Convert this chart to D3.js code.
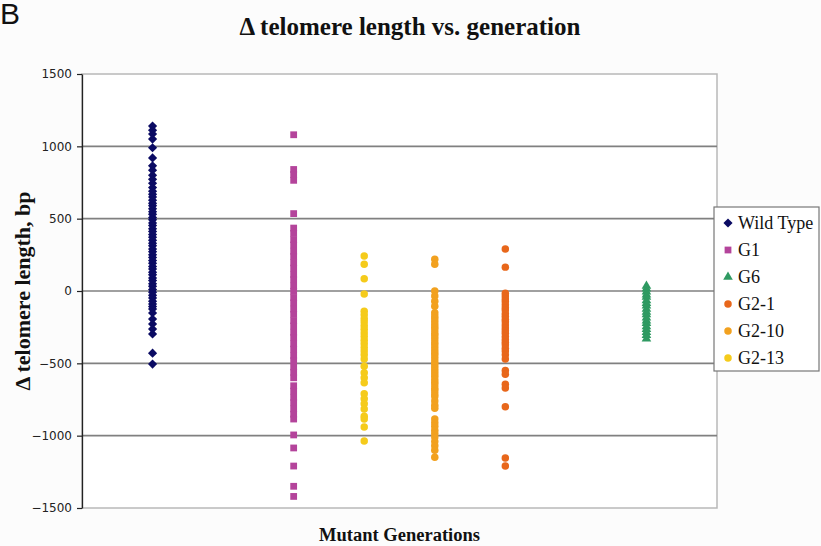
<!DOCTYPE html>
<html>
<head>
<meta charset="utf-8">
<script src="https://cdn.jsdelivr.net/npm/d3@7"></script>
<style>
  body { margin: 0; background: #fcfcfc; }
  svg { display: block; }
</style>
</head>
<body>
<div id="chart"></div>
<script>
// series names, legend order
const seriesNames = ["Wild Type", "G1", "G6", "G2-1", "G2-10", "G2-13"];
// x position of each series (Excel scatter x value)
const seriesX = [1, 3, 8, 6, 5, 4];
const seriesColors = ["#0b0b63", "#b4449b", "#2f9a62", "#e8671b", "#f2a11f", "#f5cb1b"];

// Δ telomere length values (bp)
const wildType = [1140, 1112, 1085, 1050, 990, 920, 865, 835, 800, 772, 745, 715, 690, 668, 650, 628, 606, 590, 568, 548,
  530, 508, 492, 470, 452, 430, 412, 390, 372, 350, 330, 312, 290, 272, 250, 232, 210, 192, 170, 152, 130, 112, 90, 72,
  50, 32, 10, -8, -30, -48, -70, -90, -108, -125, -152, -194, -228, -263, -297, -430, -505];
const g1 = [1080, 840, 805, 765, 535, 435, 398, 355, 318, 275, 238, 195, 158, 115, 78, 35, -2, -45, -82, -125, -162,
  -205, -242, -285, -322, -365, -402, -445, -482, -525, -562, -600, -655, -692, -735, -772, -815, -852, -885, -995,
  -1085, -1210, -1350, -1420];
const g6 = [35, 15, -5, -25, -42, -65, -85, -102, -125, -145, -162, -185, -205, -222, -245, -265, -285, -305, -330];
const g2_1 = [290, 165, -15, -35, -55, -72, -95, -115, -132, -155, -175, -195, -212, -235, -255, -275, -292, -315, -335,
  -355, -372, -395, -415, -440, -470, -550, -575, -645, -670, -800, -1155, -1210];
const g2_10 = [220, 185, 0, -35, -70, -105, -150, -172, -190, -210, -232, -250, -270, -292, -310, -330, -352, -370, -390,
  -412, -430, -450, -470, -492, -510, -530, -552, -570, -590, -612, -630, -650, -672, -690, -712, -730, -760, -790,
  -810, -885, -910, -935, -962, -985, -1010, -1040, -1070, -1100, -1150];
const g2_13 = [242, 185, 85, -20, -140, -165, -192, -215, -240, -265, -290, -315, -340, -365, -390, -415, -440, -470,
  -520, -565, -600, -635, -710, -745, -780, -815, -865, -885, -940, -1037];

const yTicks = [-1500, -1000, -500, 0, 500, 1000, 1500];

const seriesValues = [wildType, g1, g6, g2_1, g2_10, g2_13];

const width = 821, height = 546;
const plot = { left: 82, top: 74, right: 717, bottom: 508 };

// rotated-square diamond like Excel's marker
const diamond = {
  draw(ctx, size) {
    const r = Math.sqrt(size / 2);
    ctx.moveTo(0, -r); ctx.lineTo(r, 0); ctx.lineTo(0, r); ctx.lineTo(-r, 0); ctx.closePath();
  }
};
const shapes = [diamond, d3.symbolSquare, d3.symbolTriangle, d3.symbolCircle, d3.symbolCircle, d3.symbolCircle];
const sizes = [42, 46, 40, 44, 44, 44];

const serif = "Liberation Serif, Times New Roman, serif";

const x = d3.scaleLinear().domain([0, 9]).range([plot.left, plot.right]);
const y = d3.scaleLinear().domain([-1500, 1500]).range([plot.bottom, plot.top]);

const svg = d3.select("#chart").append("svg")
  .attr("width", width)
  .attr("height", height);

// panel letter
svg.append("text")
  .attr("x", 0).attr("y", 24)
  .attr("font-family", "Liberation Sans, Arial, sans-serif")
  .attr("font-size", 30)
  .attr("fill", "#111")
  .text("B");

// title
svg.append("text")
  .attr("x", 410).attr("y", 35)
  .attr("text-anchor", "middle")
  .attr("font-family", serif)
  .attr("font-weight", "bold")
  .attr("font-size", 25)
  .attr("fill", "#111")
  .text("Δ telomere length vs. generation");

// plot area
svg.append("rect")
  .attr("x", plot.left).attr("y", plot.top)
  .attr("width", plot.right - plot.left).attr("height", plot.bottom - plot.top)
  .attr("fill", "#fff")
  .attr("stroke", "#b8b8b8")
  .attr("stroke-width", 1.5);

// gridlines
svg.append("g")
  .selectAll("line")
  .data(yTicks.filter(t => t !== 1500 && t !== -1500))
  .join("line")
  .attr("x1", plot.left).attr("x2", plot.right)
  .attr("y1", d => y(d)).attr("y2", d => y(d))
  .attr("stroke", "#808080")
  .attr("stroke-width", 1.6);

// y axis
const yAxis = svg.append("g")
  .attr("transform", `translate(${plot.left},0)`)
  .call(d3.axisLeft(y).tickValues(yTicks).tickFormat(d3.format("d"))
    .tickSize(5).tickPadding(5).tickSizeOuter(0));
yAxis.select(".domain").attr("stroke", "#222").attr("stroke-width", 1.3);
yAxis.selectAll(".tick line").attr("stroke", "#222").attr("stroke-width", 1.2);
yAxis.selectAll(".tick text")
  .attr("font-family", "DejaVu Sans, Tahoma, sans-serif")
  .attr("font-size", 12)
  .attr("fill", "#222");

// axis titles
svg.append("text")
  .attr("transform", `translate(30,${(plot.top + plot.bottom) / 2}) rotate(-90)`)
  .attr("text-anchor", "middle")
  .attr("font-family", serif)
  .attr("font-weight", "bold")
  .attr("font-size", 22)
  .attr("fill", "#111")
  .text("Δ telomere length, bp");

svg.append("text")
  .attr("x", (plot.left + plot.right) / 2).attr("y", 541)
  .attr("text-anchor", "middle")
  .attr("font-family", serif)
  .attr("font-weight", "bold")
  .attr("font-size", 18.5)
  .attr("fill", "#111")
  .text("Mutant Generations");

// points
const pointsGroup = svg.append("g");
seriesNames.forEach((name, i) => {
  const sym = d3.symbol().type(shapes[i]).size(sizes[i]);
  pointsGroup.append("g")
    .selectAll("path")
    .data(seriesValues[i])
    .join("path")
    .attr("transform", d => `translate(${x(seriesX[i])},${y(d)})`)
    .attr("d", sym)
    .attr("fill", seriesColors[i]);
});

// legend
const legend = svg.append("g").attr("transform", "translate(714,207)");
legend.append("rect")
  .attr("width", 105).attr("height", 164)
  .attr("fill", "#fff")
  .attr("stroke", "#777")
  .attr("stroke-width", 1.2);
const legendItems = legend.selectAll("g.item")
  .data(seriesNames)
  .join("g")
  .attr("class", "item")
  .attr("transform", (d, i) => `translate(0,${16 + i * 27})`);
legendItems.append("path")
  .attr("transform", "translate(14,0)")
  .attr("d", (d, i) => d3.symbol().type(shapes[i]).size(sizes[i])())
  .attr("fill", (d, i) => seriesColors[i]);
legendItems.append("text")
  .attr("x", 24).attr("y", 6)
  .attr("font-family", serif)
  .attr("font-size", 18)
  .attr("fill", "#111")
  .text(d => d);
</script>
</body>
</html>
